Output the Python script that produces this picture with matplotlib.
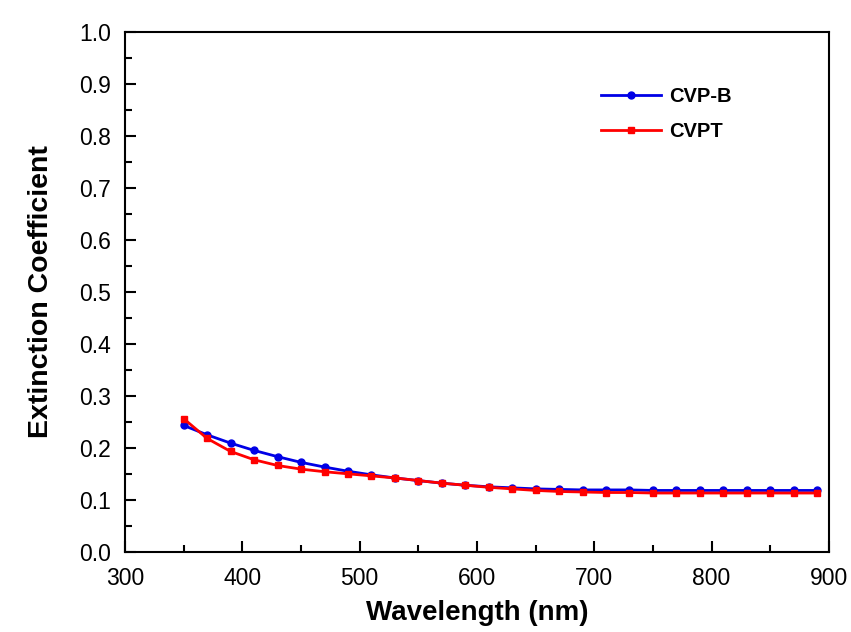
import matplotlib
matplotlib.use("Agg")
import matplotlib.pyplot as plt
from matplotlib.ticker import MultipleLocator

plt.rcParams['font.family'] = ['Liberation Sans', 'DejaVu Sans']

wavelength = [350, 370, 390, 410, 430, 450, 470, 490, 510, 530, 550, 570, 590, 610,
              630, 650, 670, 690, 710, 730, 750, 770, 790, 810, 830, 850, 870, 890]
cvp_b = [0.243, 0.225, 0.209, 0.195, 0.183, 0.172, 0.163, 0.155, 0.148, 0.142, 0.137,
         0.132, 0.128, 0.125, 0.123, 0.121, 0.120, 0.119, 0.119, 0.119, 0.118, 0.118,
         0.118, 0.118, 0.118, 0.118, 0.118, 0.118]
cvpt = [0.256, 0.218, 0.193, 0.177, 0.166, 0.159, 0.154, 0.150, 0.146, 0.142, 0.137,
        0.132, 0.128, 0.124, 0.121, 0.118, 0.116, 0.115, 0.114, 0.114, 0.113, 0.113,
        0.113, 0.113, 0.113, 0.113, 0.113, 0.113]

fig = plt.figure(figsize=(8.51, 6.32), dpi=100)
ax = fig.add_axes([0.147, 0.127, 0.827, 0.822])

ax.plot(wavelength, cvp_b, color='#0000e6', marker='o', markersize=5, linewidth=2, label='CVP-B')
ax.plot(wavelength, cvpt, color='#ff0000', marker='s', markersize=5, linewidth=2, label='CVPT')

ax.set_xlim(300, 900)
ax.set_ylim(0, 1.0)
ax.xaxis.set_major_locator(MultipleLocator(100))
ax.xaxis.set_minor_locator(MultipleLocator(50))
ax.yaxis.set_major_locator(MultipleLocator(0.1))
ax.yaxis.set_minor_locator(MultipleLocator(0.05))
ax.yaxis.set_major_formatter(matplotlib.ticker.FormatStrFormatter('%.1f'))
ax.tick_params(which='both', direction='in', width=1.5, labelsize=16.5)
ax.tick_params(axis='x', pad=11)
ax.tick_params(axis='y', pad=10)
ax.tick_params(which='major', length=8)
ax.tick_params(which='minor', length=5)
for s in ax.spines.values():
    s.set_linewidth(1.5)

ax.set_xlabel('Wavelength (nm)', fontsize=20, fontweight='bold', labelpad=7)
ax.set_ylabel('Extinction Coefficient', fontsize=20.5, fontweight='bold', labelpad=18)

leg = ax.legend(loc='upper left', bbox_to_anchor=(0.65, 0.93), frameon=False,
                prop={'weight': 'bold', 'size': 14.5}, handlelength=3.0, labelspacing=0.8,
                handletextpad=0.4)

fig.savefig('out.png', dpi=100)
